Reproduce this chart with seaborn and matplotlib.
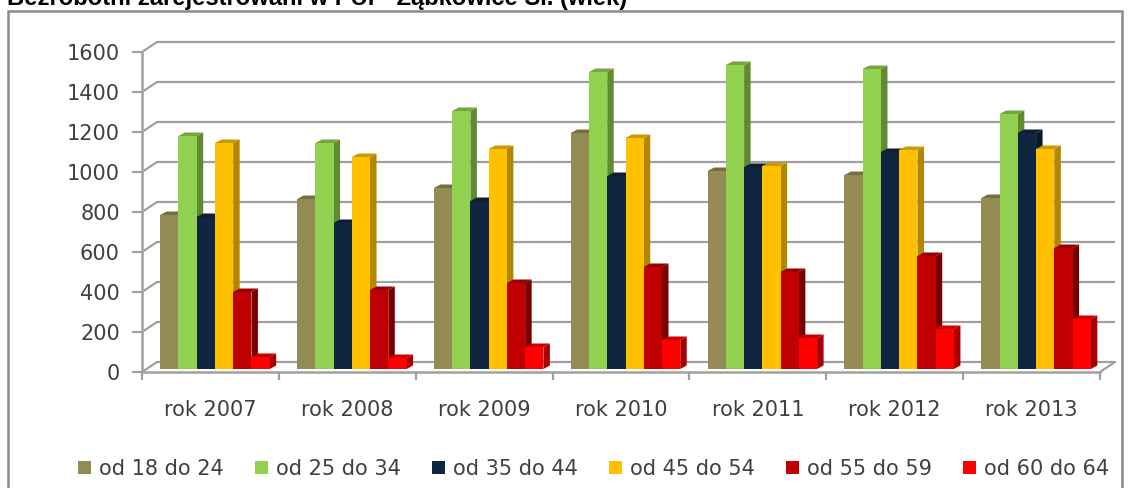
import seaborn as sns
import matplotlib.pyplot as plt
import pandas as pd
from matplotlib.patches import Polygon, Rectangle
from matplotlib.transforms import offset_copy, IdentityTransform
from matplotlib.colors import to_rgb

years = ["rok 2007", "rok 2008", "rok 2009", "rok 2010", "rok 2011", "rok 2012", "rok 2013"]
groups = ["od 18 do 24", "od 25 do 34", "od 35 do 44", "od 45 do 54", "od 55 do 59", "od 60 do 64"]
v18 = [770, 850, 905, 1180, 990, 970, 855]
v25 = [1165, 1130, 1290, 1485, 1520, 1500, 1275]
v35 = [760, 730, 840, 965, 1010, 1085, 1180]
v45 = [1130, 1060, 1100, 1155, 1015, 1095, 1100]
v55 = [385, 395, 430, 510, 485, 565, 605]
v60 = [60, 55, 110, 145, 155, 200, 250]
colors = ["#948A54", "#92D050", "#10253F", "#FFC000", "#C00000", "#FF0000"]
side_colors = ["#6b6339", "#5f8a32", "#0a1828", "#b38600", "#7a0000", "#a80000"]

W, H = 1128, 488
GREY = "#a0a0a0"
TXT = "#404040"
FONT = "DejaVu Sans"
FS = 15

df = pd.DataFrame({"rok": years * 6,
                   "wiek": [g for g in groups for _ in years],
                   "n": v18 + v25 + v35 + v45 + v55 + v60})

sns.set_theme(style="white")
plt.rcParams["font.family"] = FONT
fig = plt.figure(figsize=(W / 100, H / 100), dpi=100)
ax = fig.add_axes([142 / W, 1 - 372 / H, 958 / W, 320 / H])
ax.patch.set_alpha(0)
sns.barplot(data=df, x="rok", y="n", hue="wiek", palette=colors, width=0.8, gap=0,
            saturation=1, linewidth=0, ax=ax, legend=True)
ax.set_xlim(-0.5, 6.5)
ax.set_ylim(0, 1600)
ax.set_xlabel("")
ax.set_ylabel("")
ax.set_yticks(range(0, 1601, 200))
ax.set_xticks(range(7), years)
ax.set_xticks([i - 0.5 for i in range(8)], minor=True)
ax.tick_params(axis="x", which="major", length=0, pad=20, labelsize=FS, labelcolor=TXT)
ax.tick_params(axis="x", which="minor", length=6, width=1.6, color=GREY, bottom=True)
ax.tick_params(axis="y", length=7, width=1.6, color=GREY, left=True, pad=9, labelsize=FS, labelcolor=TXT)
sns.despine(ax=ax, top=True, right=True)
for s in ["left", "bottom"]:
    ax.spines[s].set_color(GREY)
    ax.spines[s].set_linewidth(1.8)

# back wall grid + the slanted bits on the left wall
back = offset_copy(ax.transData, fig, x=15, y=10, units="dots")
ax.hlines(range(0, 1601, 200), -0.5, 6.5, color=GREY, lw=1.6, transform=back, clip_on=False, zorder=0.5)
for v in range(0, 1601, 200):
    x0, y0 = ax.transData.transform((-0.5, v))
    ax.add_artist(plt.Line2D([x0, x0 + 15], [y0, y0 + 10], color=GREY, lw=1.6,
                             transform=IdentityTransform(), clip_on=False, zorder=0.5))
x0, y0 = ax.transData.transform((6.5, 0))
ax.add_artist(plt.Line2D([x0, x0 + 15], [y0, y0 + 10], color=GREY, lw=1.6,
                         transform=IdentityTransform(), clip_on=False, zorder=0.5))

# fake 3d: move bars off the front plane, add side and top faces
DX, DY = 4.5, 3
SX, SY = 6.5, 3.5
bars = [(c, k) for k, cont in enumerate(ax.containers) for c in cont]
bars.sort(key=lambda b: b[0].get_x())
moved = offset_copy(ax.transData, fig, x=DX, y=DY, units="dots")
for n, (b, k) in enumerate(bars):
    z = 3 + n * 0.01
    (x1, y1), (x2, y2) = ax.transData.transform([(b.get_x(), 0), (b.get_x() + b.get_width(), b.get_height())])
    x1, x2, y1, y2 = x1 + DX, x2 + DX, y1 + DY, y2 + DY
    side = Polygon([(x2, y1), (x2 + SX, y1 + SY), (x2 + SX, y2 + SY), (x2, y2)], fc=side_colors[k], ec="none",
                   transform=IdentityTransform(), clip_on=False, zorder=z)
    top = tuple(0.8 * c for c in to_rgb(colors[k]))
    lid = Polygon([(x1, y2), (x1 + SX, y2 + SY), (x2 + SX, y2 + SY), (x2, y2)], fc=top, ec="none",
                  transform=IdentityTransform(), clip_on=False, zorder=z)
    ax.add_artist(side)
    ax.add_artist(lid)
    b.set_transform(moved)
    b.set_zorder(z + 0.001)
    b.set_clip_on(False)

h, l = ax.get_legend_handles_labels()
ax.legend(h, l, ncol=6, frameon=False, loc="center left", bbox_to_anchor=(78 / W, 1 - 469 / H),
          bbox_transform=fig.transFigure, fontsize=FS, labelcolor=TXT, handlelength=0.62, handleheight=0.62,
          handletextpad=0.38, columnspacing=1.5, borderpad=0, borderaxespad=0)

# outer frame and the cut off title
fig.add_artist(Rectangle((8 / W, -0.05), 1114 / W, 1.05 - 11 / H, fc="none", ec="#8c8c8c", lw=1.8,
                         transform=fig.transFigure))
fig.text(7 / W, 1 - 5 / H, "Bezrobotni zarejestrowani w PUP  Ząbkowice Śl. (wiek)", family="Liberation Sans",
         weight="bold", fontsize=17.1, color="black", va="baseline", ha="left")

fig.savefig("out.png", dpi=100)
